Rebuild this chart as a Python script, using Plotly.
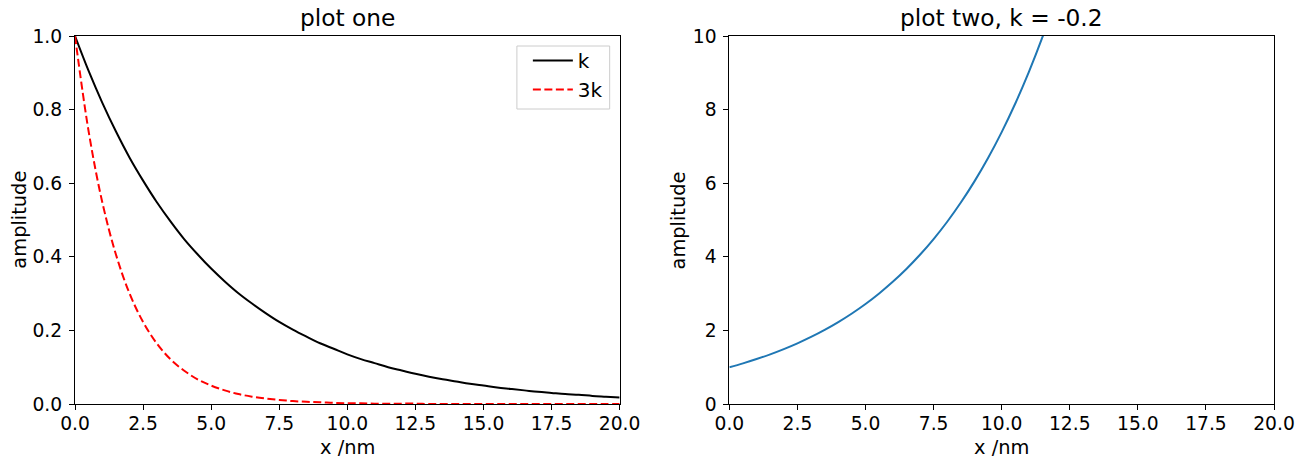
import plotly.graph_objects as go
from plotly.subplots import make_subplots

# ---- data ----
x_nm = [0.0, 0.5, 1.0, 1.5, 2.0, 2.5, 3.0, 3.5, 4.0, 4.5, 5.0, 5.5, 6.0, 6.5, 7.0,
        7.5, 8.0, 8.5, 9.0, 9.5, 10.0, 10.5, 11.0, 11.5, 12.0, 12.5, 13.0, 13.5,
        14.0, 14.5, 15.0, 15.5, 16.0, 16.5, 17.0, 17.5, 18.0, 18.5, 19.0, 19.5, 20.0]

amp_k = [1.000, 0.905, 0.819, 0.741, 0.670, 0.607, 0.549, 0.497, 0.449, 0.407,
         0.368, 0.333, 0.301, 0.273, 0.247, 0.223, 0.202, 0.183, 0.165, 0.150,
         0.135, 0.122, 0.111, 0.100, 0.091, 0.082, 0.074, 0.067, 0.061, 0.055,
         0.050, 0.045, 0.041, 0.037, 0.033, 0.030, 0.027, 0.025, 0.022, 0.020, 0.018]

amp_3k = [1.000, 0.741, 0.549, 0.407, 0.301, 0.223, 0.165, 0.122, 0.091, 0.067,
          0.050, 0.037, 0.027, 0.020, 0.015, 0.011, 0.008, 0.006, 0.005, 0.003,
          0.002, 0.002, 0.001, 0.001, 0.001, 0.001, 0.000, 0.000, 0.000, 0.000,
          0.000, 0.000, 0.000, 0.000, 0.000, 0.000, 0.000, 0.000, 0.000, 0.000, 0.000]

x_two = [0.0, 0.5, 1.0, 1.5, 2.0, 2.5, 3.0, 3.5, 4.0, 4.5, 5.0, 5.5, 6.0, 6.5,
         7.0, 7.5, 8.0, 8.5, 9.0, 9.5, 10.0, 10.5, 11.0, 11.5, 12.0]
amp_two = [1.000, 1.105, 1.221, 1.350, 1.492, 1.649, 1.822, 2.014, 2.226, 2.460,
           2.718, 3.004, 3.320, 3.669, 4.055, 4.482, 4.953, 5.474, 6.050, 6.686,
           7.389, 8.166, 9.025, 9.974, 11.023]

x_ticks = [0, 2.5, 5, 7.5, 10, 12.5, 15, 17.5, 20]
x_ticktext = ["0.0", "2.5", "5.0", "7.5", "10.0", "12.5", "15.0", "17.5", "20.0"]
y1_ticks = [0, 0.2, 0.4, 0.6, 0.8, 1.0]
y2_ticks = [0, 2, 4, 6, 8, 10]

titles = ["plot one", "plot two, k = -0.2"]

# ---- figure ----
W, H = 1307, 467
L, R, T, B = 75, 30, 36, 63
pw = W - L - R
ph = H - T - B

fig = make_subplots(rows=1, cols=2, horizontal_spacing=0.0)

fig.add_trace(go.Scatter(x=x_nm, y=amp_k, mode="lines", name="k",
                         line=dict(color="black", width=2, shape="spline")),
              row=1, col=1)
fig.add_trace(go.Scatter(x=x_nm, y=amp_3k, mode="lines", name="3k",
                         line=dict(color="#ff0000", width=2, dash="8px,3.5px",
                                   shape="spline")),
              row=1, col=1)
fig.add_trace(go.Scatter(x=x_two, y=amp_two, mode="lines", name="exp",
                         showlegend=False,
                         line=dict(color="#1f77b4", width=2, shape="spline")),
              row=1, col=2)

FONT = "DejaVu Sans"
tickfont = dict(family=FONT, size=18.7, color="black")
axis_common = dict(showline=True, linecolor="black", linewidth=1.1, mirror=True,
                   ticks="outside", ticklen=5, tickwidth=1.1, tickcolor="black",
                   showgrid=False, zeroline=False, tickfont=tickfont)

d1 = [0, (621 - L) / pw]
d2 = [(731 - L) / pw, 1]

fig.update_layout(
    xaxis=dict(domain=d1, range=[0, 20], tickvals=x_ticks, ticktext=x_ticktext,
               ticklabelstandoff=-2, **axis_common),
    yaxis=dict(domain=[0, 1], range=[0, 1], tickvals=y1_ticks, tickformat=".1f",
               ticklabelstandoff=3, **axis_common),
    xaxis2=dict(domain=d2, range=[0, 20], tickvals=x_ticks, ticktext=x_ticktext,
                ticklabelstandoff=-2, **axis_common),
    yaxis2=dict(domain=[0, 1], range=[0, 10], tickvals=y2_ticks,
                ticklabelstandoff=3, **axis_common),
)

def px_x(p):
    return (p - L) / pw

def px_y(p):
    return (H - B - p) / ph

ann = []
# subplot titles
ann.append(dict(text=titles[0], x=px_x((75 + 621) / 2), y=px_y(18), xref="paper", yref="paper",
                showarrow=False, xanchor="center", yanchor="middle",
                font=dict(family=FONT, size=23.3, color="black")))
ann.append(dict(text=titles[1], x=px_x((731 + 1277) / 2), y=px_y(18), xref="paper", yref="paper",
                showarrow=False, xanchor="center", yanchor="middle",
                font=dict(family=FONT, size=23.3, color="black")))
# axis labels
for cx in [(75 + 621) / 2, (731 + 1277) / 2]:
    ann.append(dict(text="x /nm", x=px_x(cx), y=px_y(447), xref="paper", yref="paper",
                    showarrow=False, xanchor="center", yanchor="middle",
                    font=dict(family=FONT, size=19.4, color="black")))
for lx in [18.5, 680]:
    ann.append(dict(text="amplitude", x=px_x(lx), y=px_y(220), xref="paper", yref="paper",
                    showarrow=False, xanchor="center", yanchor="middle", textangle=-90,
                    font=dict(family=FONT, size=19.4, color="black")))

# legend frame (matplotlib-style box)
legend_box = dict(type="rect", xref="paper", yref="paper",
                  x0=px_x(518), x1=px_x(611), y0=px_y(109), y1=px_y(46),
                  line=dict(color="#cccccc", width=1),
                  fillcolor="rgba(255,255,255,0.8)", layer="above")

fig.update_layout(
    width=W, height=H,
    margin=dict(l=L, r=R, t=T, b=B, pad=0),
    paper_bgcolor="white", plot_bgcolor="white",
    annotations=ann,
    shapes=[legend_box],
    showlegend=True,
    legend=dict(x=px_x(529), y=px_y(41), xanchor="left", yanchor="top",
                xref="paper", yref="paper",
                bgcolor="rgba(0,0,0,0)", borderwidth=0,
                font=dict(family=FONT, size=20, color="black"),
                itemwidth=40, tracegroupgap=0),
)

fig.write_html("out.html")
